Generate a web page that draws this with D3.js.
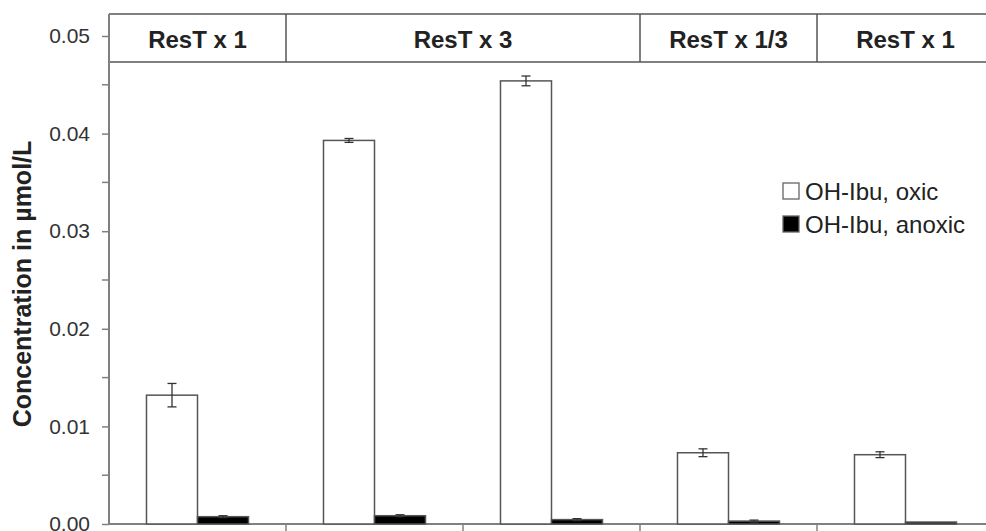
<!DOCTYPE html>
<html lang="en">
<head>
<meta charset="UTF-8">
<title>OH-Ibu concentration</title>
<style>
  * { margin: 0; padding: 0; }
  body { background: #fff; font-family: "Liberation Sans", Arial, sans-serif; }
  svg { display: block; }
</style>
</head>
<body>
<svg width="986" height="531"></svg>
<script src="https://d3js.org/d3.v7.min.js"></script>
<script>
// data
const categories = ['A', 'B', 'C', 'D', 'E'];
const series = ['OH-Ibu, oxic', 'OH-Ibu, anoxic'];
const oxic = [0.0132, 0.0393, 0.0454, 0.0073, 0.0071];
const oxicErr = [0.0012, 0.0002, 0.0005, 0.0004, 0.0003];
const anoxic = [0.00075, 0.00085, 0.00045, 0.0003, 0.0002];
const anoxicErr = [0.0001, 0.0001, 0.0001, 0.0001, 0.0];
const headers = ['ResT x 1', 'ResT x 3', 'ResT x 1/3', 'ResT x 1'];
const headerSpans = [[0, 1], [1, 3], [3, 4], [4, 5]];
const tickLabels = ['0.00', '0.01', '0.02', '0.03', '0.04', '0.05'];
const majorTicks = [0, 0.01, 0.02, 0.03, 0.04, 0.05];
const minorTicks = [0.005, 0.015, 0.025, 0.035, 0.045];

const svg = d3.select('svg');
const left = 109, right = 994, bottom = 524, frameTop = 14, headerBottom = 62;
const lineColor = '#808080';

const x = d3.scaleBand().domain(categories).range([left, right]).paddingInner(0).paddingOuter(0);
const xs = d3.scaleBand().domain(series).range([0, x.bandwidth()]).paddingInner(0).paddingOuter(0.735);
const y = d3.scaleLinear().domain([0, 0.05]).range([bottom, 36]);

// header strip
const hx = d3.scaleLinear().domain([0, 5]).range([left, right]);
svg.append('line').attr('x1', left).attr('x2', 986).attr('y1', frameTop).attr('y2', frameTop)
  .attr('stroke', lineColor).attr('stroke-width', 2);
svg.append('line').attr('x1', left).attr('x2', 986).attr('y1', headerBottom).attr('y2', headerBottom)
  .attr('stroke', lineColor).attr('stroke-width', 2);
svg.selectAll('.hdiv').data(headerSpans.slice(1)).join('line')
  .attr('x1', d => hx(d[0])).attr('x2', d => hx(d[0]))
  .attr('y1', frameTop).attr('y2', headerBottom)
  .attr('stroke', '#555').attr('stroke-width', 1.5);
svg.selectAll('.htext').data(headers).join('text')
  .attr('x', (d, i) => (hx(headerSpans[i][0]) + hx(headerSpans[i][1])) / 2)
  .attr('y', 48)
  .attr('text-anchor', 'middle')
  .attr('font-size', 24).attr('font-weight', 'bold').attr('fill', '#222')
  .text(d => d);

// y axis
const yAxis = svg.append('g').attr('transform', `translate(${left},0)`)
  .call(d3.axisLeft(y).tickValues(majorTicks).tickSize(7).tickPadding(12)
    .tickFormat((d, i) => tickLabels[i]));
yAxis.select('.domain').remove();
yAxis.selectAll('line').attr('stroke', lineColor).attr('stroke-width', 1.5);
yAxis.selectAll('text').attr('font-size', 21).attr('fill', '#333')
  .attr('font-family', '"Liberation Sans", Arial, sans-serif');
svg.append('g').selectAll('line').data(minorTicks).join('line')
  .attr('x1', left - 7).attr('x2', left).attr('y1', d => y(d)).attr('y2', d => y(d))
  .attr('stroke', lineColor).attr('stroke-width', 1.5);
svg.append('line').attr('x1', left).attr('x2', left).attr('y1', frameTop).attr('y2', bottom)
  .attr('stroke', lineColor).attr('stroke-width', 2);

// x axis
svg.append('line').attr('x1', left).attr('x2', 986).attr('y1', bottom).attr('y2', bottom)
  .attr('stroke', lineColor).attr('stroke-width', 2);
svg.selectAll('.xtick').data(categories.slice(1)).join('line')
  .attr('x1', d => x(d)).attr('x2', d => x(d)).attr('y1', bottom).attr('y2', bottom + 7)
  .attr('stroke', lineColor).attr('stroke-width', 1.5);

svg.append('text')
  .attr('transform', 'translate(31,284) rotate(-90)')
  .attr('text-anchor', 'middle')
  .attr('font-size', 25).attr('font-weight', 'bold').attr('fill', '#222')
  .text('Concentration in µmol/L');

// bars
const sets = [
  { name: series[0], vals: oxic, errs: oxicErr, fill: '#fff' },
  { name: series[1], vals: anoxic, errs: anoxicErr, fill: '#000' }
];
sets.forEach(s => {
  const g = svg.append('g');
  g.selectAll('rect').data(categories).join('rect')
    .attr('x', (c) => x(c) + xs(s.name))
    .attr('y', (c, i) => y(s.vals[i]))
    .attr('width', xs.bandwidth())
    .attr('height', (c, i) => bottom - y(s.vals[i]))
    .attr('fill', s.fill)
    .attr('stroke', '#555').attr('stroke-width', 1.5);
  const cx = c => x(c) + xs(s.name) + xs.bandwidth() / 2;
  const eb = g.selectAll('.err').data(categories.filter((c, i) => s.errs[i] > 0)).join('g')
    .attr('stroke', '#333').attr('stroke-width', 1.3);
  eb.append('line')
    .attr('x1', cx).attr('x2', cx)
    .attr('y1', c => y(s.vals[categories.indexOf(c)] + s.errs[categories.indexOf(c)]))
    .attr('y2', c => y(s.vals[categories.indexOf(c)] - s.errs[categories.indexOf(c)]));
  ['+', '-'].forEach(sign => {
    eb.append('line')
      .attr('x1', c => cx(c) - 4.5).attr('x2', c => cx(c) + 4.5)
      .attr('y1', c => {
        const i = categories.indexOf(c);
        return y(sign === '+' ? s.vals[i] + s.errs[i] : s.vals[i] - s.errs[i]);
      })
      .attr('y2', c => {
        const i = categories.indexOf(c);
        return y(sign === '+' ? s.vals[i] + s.errs[i] : s.vals[i] - s.errs[i]);
      });
  });
});

// legend
const legend = svg.append('g').attr('transform', 'translate(783,183)');
sets.forEach((s, i) => {
  const row = legend.append('g').attr('transform', `translate(0,${i * 33})`);
  row.append('rect').attr('width', 16).attr('height', 16)
    .attr('fill', s.fill).attr('stroke', '#666').attr('stroke-width', 1.3);
  row.append('text').attr('x', 22).attr('y', 16.5)
    .attr('font-size', 24).attr('fill', '#222').text(s.name);
});
</script>
</body>
</html>
